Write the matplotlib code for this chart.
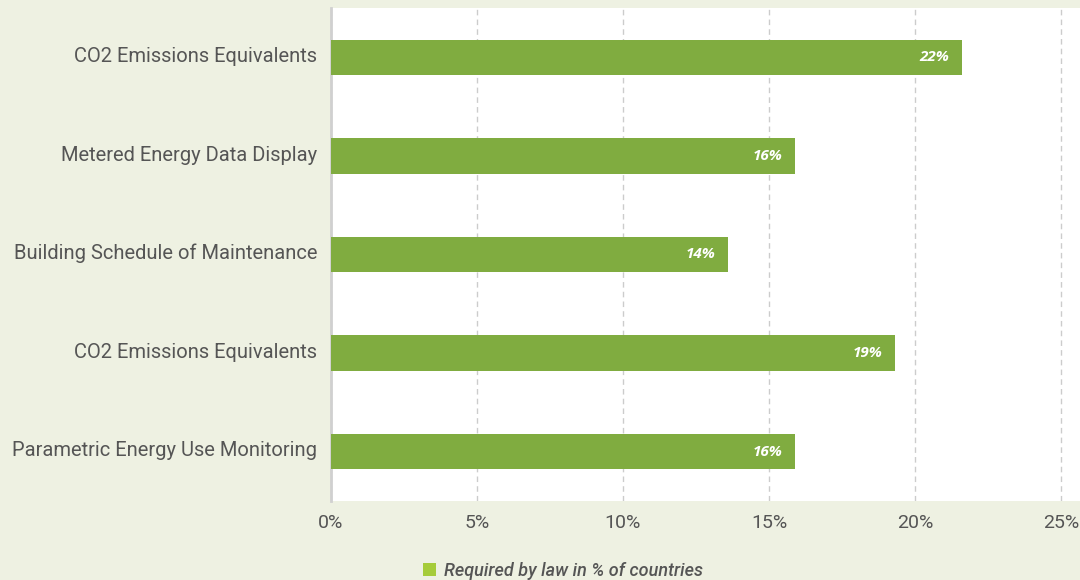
import matplotlib
matplotlib.use("Agg")
import matplotlib.pyplot as plt
import matplotlib.transforms as mtransforms
from matplotlib.patches import Patch

categories = [
    "CO2 Emissions Equivalents",
    "Metered Energy Data Display",
    "Building Schedule of Maintenance",
    "CO2 Emissions Equivalents",
    "Parametric Energy Use Monitoring",
]
values = [21.6, 15.9, 13.6, 19.3, 15.9]
xticks = [0, 5, 10, 15, 20, 25]
xtick_labels = ["0%", "5%", "10%", "15%", "20%", "25%"]
series_name = "Required by law in % of countries"

BG = "#eef1e2"
BAR = "#80ac40"
TXT = "#555555"

W, H = 1080, 580
fig = plt.figure(figsize=(W / 100, H / 100), dpi=100, facecolor=BG)
ax = fig.add_axes([331 / W, 1 - 501 / H, 1 - 331 / W, (501 - 8) / H])
ax.set_facecolor("white")

ypos = list(range(len(categories)))
ax.barh(ypos, values, height=0.36, color=BAR, zorder=3)

for y, v in zip(ypos, values):
    ax.annotate(f"{v:.0f}%", xy=(v, y), xytext=(-9, 0), textcoords="offset points",
                ha="right", va="center", color="white", fontsize=11,
                fontweight="bold", fontstyle="italic", family="Open Sans", zorder=4)

ax.set_ylim(len(categories) - 0.5, -0.5)
ax.set_xlim(0, (W - 331) / 29.2)
ax.set_yticks(ypos)
ax.set_yticklabels(categories, family="Roboto", fontsize=14.5, color=TXT)
ax.set_xticks(xticks)
ax.set_xticklabels(xtick_labels, family="Roboto", fontsize=14, color=TXT)
ax.tick_params(axis="both", length=0)
ax.tick_params(axis="y", pad=10)
ax.tick_params(axis="x", pad=9)

# nudge category labels up slightly
shift = mtransforms.ScaledTranslation(0, 2 / 72, fig.dpi_scale_trans)
for lbl in ax.get_yticklabels():
    lbl.set_transform(lbl.get_transform() + shift)

ax.grid(axis="x", color="#cccccc", linestyle=(0, (4, 3)), linewidth=1, zorder=0)
ax.grid(axis="y", visible=False)
for side in ("top", "right", "bottom"):
    ax.spines[side].set_visible(False)
ax.spines["left"].set_color("#d0d0d0")
ax.spines["left"].set_linewidth(2)

handle = Patch(facecolor="#a6cc3a", edgecolor="none", label=series_name)
leg = fig.legend(handles=[handle], loc="center", bbox_to_anchor=(563 / W, 1 - 571 / H),
                 frameon=False, handlelength=0.75, handleheight=0.75, handletextpad=0.45,
                 prop={"family": "Roboto", "size": 13, "style": "italic", "weight": "medium"})
for t in leg.get_texts():
    t.set_color(TXT)

fig.savefig("out.png", dpi=100, facecolor=BG)
